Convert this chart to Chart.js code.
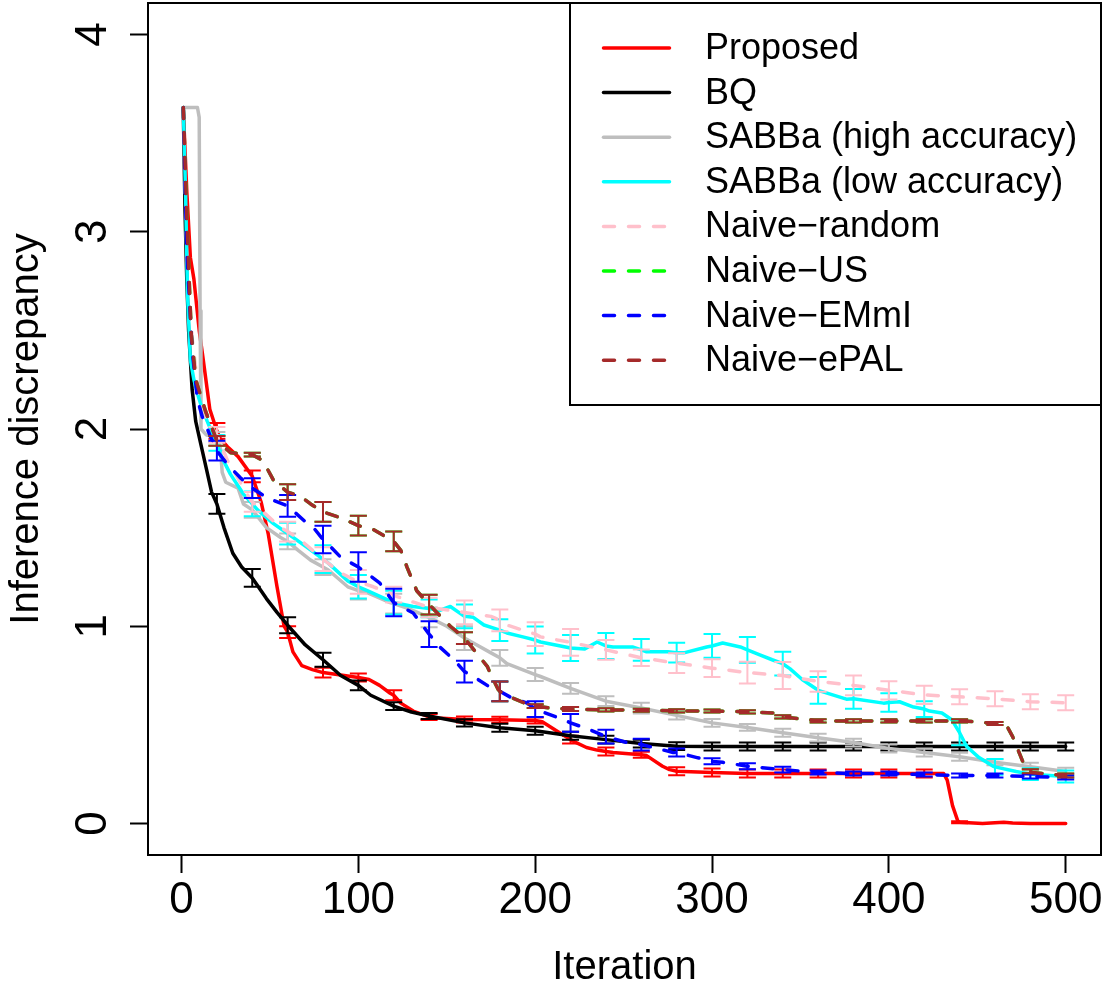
<!DOCTYPE html>
<html>
<head>
<meta charset="utf-8">
<script src="https://cdn.jsdelivr.net/npm/chart.js@4.4.1/dist/chart.umd.min.js"></script>
<style>
  html, body { margin: 0; padding: 0; background: #fff; }
  canvas { display: block; }
</style>
</head>
<body>
<canvas id="myChart" width="1102" height="990"></canvas>
<script>
const FONT = "'Liberation Sans', Arial, Helvetica, sans-serif"

const xTicks = [0, 100, 200, 300, 400, 500]
const yTicks = [0, 1, 2, 3, 4]
const errX = [20, 40, 60, 80, 100, 120, 140, 160, 180, 200, 220, 240, 260, 280, 300, 320, 340, 360, 380, 400, 420, 440, 460, 480, 500]

// Proposed
const proposedX = [1, 3, 5, 7, 10, 12, 16, 20, 22, 26, 32, 40, 45, 49, 54, 58, 60, 63, 68, 74, 80, 100, 106, 112, 118, 120, 124, 131, 140, 145, 160, 180, 200, 204, 212, 220, 222, 229, 235, 240, 244, 260, 263, 272, 276, 280, 300, 320, 340, 360, 380, 400, 420, 431, 433, 436, 439, 440, 453, 460, 465, 470, 480, 500]
const proposedY = [3.62, 3.2, 2.87, 2.76, 2.5, 2.37, 2.1, 1.99, 1.95, 1.91, 1.86, 1.76, 1.63, 1.47, 1.2, 1.0, 0.97, 0.87, 0.8, 0.78, 0.765, 0.74, 0.73, 0.70, 0.66, 0.65, 0.61, 0.57, 0.54, 0.535, 0.527, 0.526, 0.522, 0.516, 0.47, 0.425, 0.415, 0.385, 0.372, 0.365, 0.36, 0.348, 0.344, 0.29, 0.273, 0.265, 0.258, 0.253, 0.253, 0.253, 0.253, 0.253, 0.253, 0.253, 0.22, 0.09, 0.012, 0.006, 0.0, 0.003, 0.006, 0.002, 0.0, 0.0]
const proposedErr = [0.04, 0.03, 0.03, 0.025, 0.02, 0.025, 0.015, 0.015, 0.015, 0.015, 0.02, 0.02, 0.015, 0.02, 0.02, 0.02, 0.02, 0.02, 0.02, 0.02, 0.02, 0.005, 0, 0, 0]

// BQ
const bqX = [1, 2, 3, 4, 6, 8, 11, 14, 17, 20, 24, 29, 34, 40, 48, 54, 60, 70, 80, 90, 100, 107, 120, 130, 140, 160, 180, 200, 220, 240, 260, 280, 300, 320, 340, 360, 380, 400, 420, 440, 460, 480, 500]
const bqY = [3.62, 3.1, 2.75, 2.5, 2.2, 2.04, 1.92, 1.8, 1.68, 1.62, 1.5, 1.37, 1.3, 1.245, 1.14, 1.07, 1.005, 0.905, 0.83, 0.75, 0.70, 0.65, 0.595, 0.565, 0.545, 0.51, 0.485, 0.47, 0.445, 0.425, 0.405, 0.392, 0.39, 0.39, 0.39, 0.39, 0.39, 0.39, 0.39, 0.39, 0.39, 0.39, 0.39]
const bqErr = [0.05, 0.045, 0.04, 0.035, 0.025, 0.02, 0.015, 0.018, 0.02, 0.02, 0.02, 0.02, 0.02, 0.02, 0.02, 0.02, 0.02, 0.02, 0.02, 0.02, 0.02, 0.02, 0.02, 0.02, 0.02]

// SABBa (high accuracy)
const highX = [1, 9, 10, 10.5, 11, 14, 20, 22, 23, 25, 32, 35, 40, 48, 56, 60, 66, 73, 80, 83, 94, 100, 105, 118, 120, 128, 140, 150, 160, 165, 175, 180, 184, 200, 203, 220, 240, 260, 280, 300, 320, 340, 360, 380, 400, 420, 440, 460, 480, 500]
const highY = [3.63, 3.63, 3.58, 2.6, 2.0, 1.97, 1.96, 1.9, 1.78, 1.73, 1.70, 1.62, 1.59, 1.5, 1.45, 1.43, 1.385, 1.335, 1.3, 1.285, 1.2, 1.18, 1.17, 1.12, 1.115, 1.09, 1.045, 1.0, 0.94, 0.915, 0.865, 0.84, 0.81, 0.755, 0.745, 0.685, 0.62, 0.585, 0.548, 0.51, 0.487, 0.46, 0.435, 0.41, 0.38, 0.36, 0.338, 0.31, 0.288, 0.263]
const highErr = [0.025, 0.04, 0.04, 0.04, 0.045, 0.05, 0.05, 0.06, 0.04, 0.033, 0.027, 0.025, 0.027, 0.021, 0.02, 0.017, 0.02, 0.02, 0.02, 0.02, 0.02, 0.02, 0.015, 0.02, 0.02]

// SABBa (low accuracy)
const lowX = [1, 2.3, 3.4, 5, 7, 9, 10.7, 14.5, 16.4, 20, 22, 27.7, 35, 40, 43, 52, 60, 71, 80, 83, 94, 100, 105, 120, 131, 140, 146, 152, 160, 165, 171, 180, 184, 193, 200, 203, 220, 228, 235, 240, 244, 255, 260, 263, 275, 280, 284, 297, 300, 306, 316, 320, 327, 334, 340, 344, 351, 360, 376, 380, 397, 400, 406, 414, 420, 423, 430, 435.6, 438, 440, 444, 451, 459, 460, 472, 480, 500]
const lowY = [3.63, 3.19, 2.68, 2.35, 2.25, 2.18, 2.13, 2.04, 2.0, 1.93, 1.87, 1.77, 1.67, 1.62, 1.59, 1.52, 1.47, 1.40, 1.34, 1.32, 1.23, 1.20, 1.18, 1.12, 1.10, 1.09, 1.08, 1.10, 1.05, 1.045, 1.006, 0.98, 0.966, 0.946, 0.93, 0.92, 0.89, 0.885, 0.92, 0.90, 0.895, 0.895, 0.88, 0.87, 0.87, 0.866, 0.865, 0.895, 0.90, 0.915, 0.895, 0.88, 0.855, 0.83, 0.81, 0.785, 0.73, 0.675, 0.63, 0.632, 0.61, 0.613, 0.617, 0.59, 0.58, 0.57, 0.56, 0.526, 0.49, 0.46, 0.39, 0.334, 0.29, 0.287, 0.263, 0.25, 0.238]
const lowErr = [0.04, 0.063, 0.055, 0.07, 0.06, 0.06, 0.045, 0.06, 0.055, 0.068, 0.066, 0.066, 0.055, 0.05, 0.06, 0.065, 0.06, 0.068, 0.05, 0.047, 0.04, 0.063, 0.04, 0.03, 0.03]

// Naive-random
const randomX = [1, 3, 6, 9.6, 14, 20, 26, 30, 39, 40, 56, 60, 67, 78.5, 80, 90, 100, 108.5, 120, 122, 140, 160, 175, 180, 184, 200, 203, 220, 240, 260, 280, 300, 320, 340, 360, 380, 400, 420, 440, 460, 480, 500]
const randomY = [3.63, 2.9, 2.46, 2.19, 2.05, 1.97, 1.84, 1.78, 1.64, 1.63, 1.50, 1.48, 1.44, 1.35, 1.34, 1.27, 1.225, 1.20, 1.16, 1.15, 1.095, 1.07, 1.05, 1.03, 1.006, 0.96, 0.946, 0.918, 0.88, 0.84, 0.813, 0.787, 0.765, 0.75, 0.72, 0.70, 0.675, 0.652, 0.642, 0.632, 0.617, 0.612]
const randomErr = [0.04, 0.05, 0.05, 0.06, 0.06, 0.04, 0.05, 0.06, 0.055, 0.06, 0.068, 0.05, 0.042, 0.05, 0.045, 0.055, 0.068, 0.052, 0.05, 0.046, 0.046, 0.038, 0.038, 0.038, 0.038]

// Naive-ePAL
const epalX = [1, 3.2, 5.5, 8, 13.6, 20, 27.7, 40, 46, 52, 60, 67, 73, 80, 90, 100, 108.5, 120, 124, 127.5, 133, 140, 152, 160, 173, 174.6, 179, 180, 186, 197, 200, 208.5, 220, 240, 260, 280, 300, 320, 334.5, 340, 359, 360, 380, 400, 420, 440, 442, 460, 466, 470, 476, 480, 481, 500]
const epalY = [3.63, 3.02, 2.48, 2.25, 2.09, 1.94, 1.88, 1.87, 1.84, 1.74, 1.68, 1.66, 1.62, 1.58, 1.55, 1.51, 1.49, 1.43, 1.385, 1.30, 1.18, 1.11, 1.0, 0.94, 0.795, 0.76, 0.68, 0.67, 0.64, 0.60, 0.595, 0.585, 0.58, 0.576, 0.574, 0.571, 0.57, 0.566, 0.56, 0.54, 0.52, 0.52, 0.52, 0.52, 0.52, 0.52, 0.52, 0.507, 0.506, 0.44, 0.308, 0.265, 0.258, 0.243]
const epalErr = [0.025, 0.01, 0.04, 0.05, 0.05, 0.05, 0.05, 0.03, 0.05, 0.01, 0.01, 0.008, 0.008, 0.008, 0.008, 0.008, 0.008, 0.008, 0.008, 0.008, 0.008, 0.008, 0.008, 0.01, 0.01]

// Naive-US sits exactly under Naive-ePAL in the picture
const usX = epalX
const usY = epalY
const usErr = epalErr

// Naive-EMmI
const emmiX = [1, 3, 6, 9, 11.8, 16, 20, 26, 33, 40, 48.5, 60, 70, 74.6, 80, 82.5, 90, 100, 112, 120, 131, 140, 146, 154, 160, 165, 174.6, 180, 186, 195.5, 200, 216, 220, 231, 240, 252, 260, 278, 280, 291.5, 300, 306, 320, 340, 360, 380, 400, 420, 440, 460, 480, 500]
const emmiY = [3.63, 2.9, 2.4, 2.15, 2.06, 1.97, 1.89, 1.82, 1.755, 1.70, 1.65, 1.61, 1.53, 1.50, 1.44, 1.42, 1.35, 1.30, 1.22, 1.12, 1.067, 0.96, 0.895, 0.83, 0.77, 0.745, 0.69, 0.67, 0.64, 0.61, 0.58, 0.526, 0.51, 0.475, 0.44, 0.41, 0.40, 0.36, 0.36, 0.334, 0.315, 0.31, 0.29, 0.273, 0.258, 0.253, 0.253, 0.248, 0.243, 0.243, 0.238, 0.233]
const emmiErr = [0.05, 0.05, 0.055, 0.07, 0.075, 0.07, 0.065, 0.055, 0.05, 0.04, 0.045, 0.035, 0.03, 0.02, 0.015, 0.015, 0.015, 0.01, 0.01, 0.01, 0.01, 0.01, 0.01, 0.01, 0.01]

const seriesNames = ['Proposed', 'BQ', 'SABBa (high accuracy)', 'SABBa (low accuracy)', 'Naive\u2212random', 'Naive\u2212US', 'Naive\u2212EMmI', 'Naive\u2212ePAL']
const seriesColors = ['#FF0000', '#000000', '#BEBEBE', '#00FFFF', '#FFC0CB', '#00FF00', '#0000FF', '#A52A2A']
const seriesDashed = [false, false, false, false, true, true, true, true]
const seriesX = [proposedX, bqX, highX, lowX, randomX, usX, emmiX, epalX]
const seriesY = [proposedY, bqY, highY, lowY, randomY, usY, emmiY, epalY]
const seriesErr = [proposedErr, bqErr, highErr, lowErr, randomErr, usErr, emmiErr, epalErr]

const LINE_W = 3.5
const DASH = [11, 14]

const datasets = seriesNames.map((name, i) => ({
  label: name,
  data: seriesX[i].map((x, j) => ({ x: x, y: seriesY[i][j] })),
  borderColor: seriesColors[i],
  backgroundColor: seriesColors[i],
  borderWidth: LINE_W,
  borderDash: seriesDashed[i] ? DASH : [],
  borderCapStyle: 'round',
  borderJoinStyle: 'round',
  pointRadius: 0,
  tension: 0,
  fill: false,
  // later series are painted on top, as in the original
  order: seriesNames.length - i
}))

// vertical error bars with flat caps, drawn right after their own line
const errorBars = {
  id: 'errorBars',
  afterDatasetDraw(chart, args) {
    const i = args.index
    const ctx = chart.ctx
    const sx = chart.scales.x
    const sy = chart.scales.y
    const xs = seriesX[i]
    const ys = seriesY[i]
    const err = seriesErr[i]
    ctx.save()
    ctx.strokeStyle = seriesColors[i]
    ctx.lineWidth = 2
    ctx.setLineDash([])
    errX.forEach((x, k) => {
      const j = xs.indexOf(x)
      if (j < 0 || !err[k]) return
      const px = sx.getPixelForValue(x)
      const lo = sy.getPixelForValue(ys[j] - err[k])
      const hi = sy.getPixelForValue(ys[j] + err[k])
      ctx.beginPath()
      ctx.moveTo(px, lo)
      ctx.lineTo(px, hi)
      ctx.moveTo(px - 8.5, lo)
      ctx.lineTo(px + 8.5, lo)
      ctx.moveTo(px - 8.5, hi)
      ctx.lineTo(px + 8.5, hi)
      ctx.stroke()
    })
    ctx.restore()
  }
}

const plotBox = {
  id: 'plotBox',
  afterDraw(chart) {
    const { ctx, chartArea } = chart
    ctx.save()
    ctx.strokeStyle = '#000'
    ctx.lineWidth = 2
    ctx.strokeRect(chartArea.left, chartArea.top, chartArea.right - chartArea.left, chartArea.bottom - chartArea.top)
    ctx.restore()
  }
}

const boxLegend = {
  id: 'boxLegend',
  afterDraw(chart) {
    const ctx = chart.ctx
    const right = chart.chartArea.right
    const top = chart.chartArea.top
    ctx.save()
    ctx.fillStyle = '#fff'
    ctx.fillRect(570, top, right - 570, 402)
    ctx.strokeStyle = '#000'
    ctx.lineWidth = 2
    ctx.strokeRect(570, top, right - 570, 402)
    ctx.font = '36px ' + FONT
    ctx.textBaseline = 'middle'
    ctx.textAlign = 'left'
    seriesNames.forEach((name, i) => {
      const y = 48 + i * 44.6
      ctx.strokeStyle = seriesColors[i]
      ctx.lineWidth = LINE_W
      ctx.lineCap = 'round'
      ctx.setLineDash(seriesDashed[i] ? DASH : [])
      ctx.beginPath()
      ctx.moveTo(603.5, y)
      ctx.lineTo(669.5, y)
      ctx.stroke()
      ctx.setLineDash([])
      ctx.fillStyle = '#000'
      ctx.fillText(name, 705, y + 1)
    })
    ctx.restore()
  }
}

const ctx = document.getElementById('myChart').getContext('2d')
const myChart = new Chart(ctx, {
  type: 'line',
  data: { datasets: datasets },
  plugins: [errorBars, plotBox, boxLegend],
  options: {
    responsive: false,
    animation: false,
    devicePixelRatio: 1,
    layout: { padding: { top: 3, right: 1, left: 0, bottom: 0 } },
    plugins: {
      legend: { display: false },
      tooltip: { enabled: false }
    },
    scales: {
      x: {
        type: 'linear',
        min: -18.96,
        max: 519.96,
        afterBuildTicks: scale => { scale.ticks = xTicks.map(v => ({ value: v })) },
        afterFit: scale => {
          scale.height = 135
          scale.paddingLeft = 0
          scale.paddingRight = 0
        },
        border: { display: false },
        grid: { display: true, drawOnChartArea: false, drawTicks: true, tickLength: 18, tickWidth: 2, tickColor: '#000' },
        ticks: { color: '#000', font: { family: FONT, size: 44 }, padding: 1, maxRotation: 0, autoSkip: false },
        title: { display: true, text: 'Iteration', color: '#000', font: { family: FONT, size: 40, lineHeight: 1 }, padding: { top: 0, bottom: 2 } }
      },
      y: {
        type: 'linear',
        min: -0.16,
        max: 4.16,
        afterBuildTicks: scale => { scale.ticks = yTicks.map(v => ({ value: v })) },
        afterFit: scale => {
          scale.width = 148
          scale.paddingTop = 0
          scale.paddingBottom = 0
        },
        border: { display: false },
        grid: { display: true, drawOnChartArea: false, drawTicks: true, tickLength: 18, tickWidth: 2, tickColor: '#000' },
        ticks: { color: '#000', font: { family: FONT, size: 44 }, padding: 24, minRotation: 90, maxRotation: 90, crossAlign: 'center', autoSkip: false },
        title: { display: true, text: 'Inference discrepancy', color: '#000', font: { family: FONT, size: 40, lineHeight: 1 }, padding: { top: 7, bottom: 0 } }
      }
    }
  }
})
</script>
</body>
</html>
